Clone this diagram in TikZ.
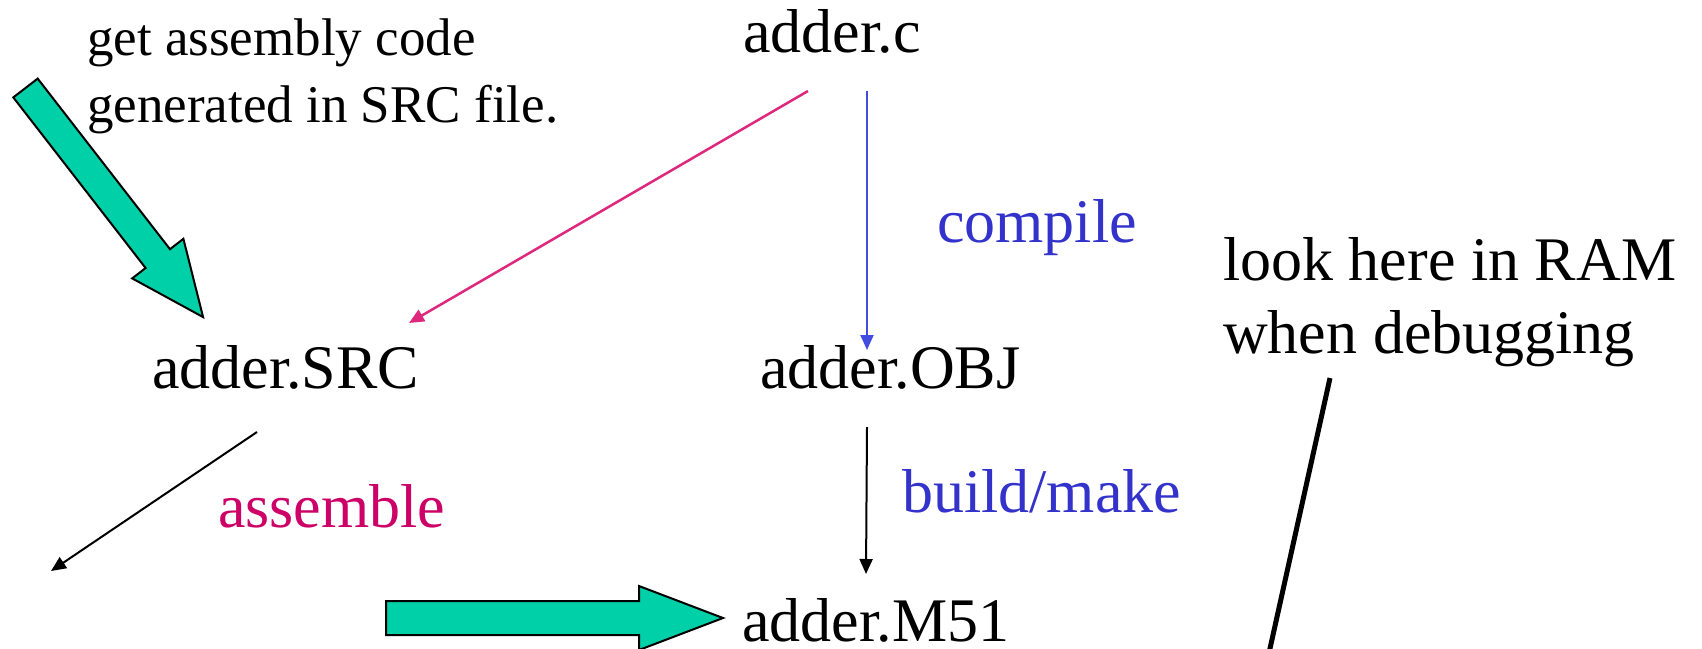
\documentclass[tikz,border=0pt]{standalone}
\usepackage{fontspec}
\setmainfont{Liberation Serif}
\usetikzlibrary{arrows.meta,positioning}

\definecolor{arrowteal}{RGB}{0,208,168}
\definecolor{srcpink}{RGB}{222,40,125}
\definecolor{compblue}{RGB}{66,76,222}
\definecolor{stepblue}{RGB}{51,51,204}
\definecolor{asmmagenta}{RGB}{204,0,102}

\begin{document}
\begin{tikzpicture}[x=1pt,y=-1pt,>={Triangle[length=15pt,width=13pt]},
    fname/.style={font=\fontsize{62}{73}\selectfont,inner sep=0pt,anchor=base west},
    note/.style={font=\fontsize{53}{67}\selectfont,inner sep=0pt,anchor=base west,align=left},
    flow/.style={->,line width=2pt},
    bigarrow/.style={fill=arrowteal,draw=black,line width=2pt,line join=miter}]

    \useasboundingbox (0,0) rectangle (1702,648);
    \clip (0,0) rectangle (1702,648);

    % file names
    \node[fname] (cfile) at (743,52) {adder.c};
    \node[fname] (src) at (152,388) {adder.SRC};
    \node[fname] (obj) at (760,388) {adder.OBJ};
    \node[fname] (m51) at (742,641) {adder.M51};

    % steps
    \node[fname,stepblue] (compile) at (937,242) {compile};
    \node[fname,stepblue] (build) at (902,512) {build/make};
    \node[fname,asmmagenta] (assemble) at (218,527) {assemble};

    % notes (base is the last line)
    \node[note] (srcnote) at (87,122) {get assembly code\\generated in SRC file.};
    \node[fname,align=left] (ramnote) at (1223,353) {look here in RAM\\when debugging};

    \coordinate (asmend) at (51,571);
    \coordinate (ramend) at (1267,662);

    \draw[flow,srcpink,line width=2.5pt] ([xshift=65pt,yshift=-39pt]cfile.base west)
        -- ([xshift=257pt,yshift=65pt]src.base west);
    \draw[flow,compblue] ([xshift=124pt,yshift=-39pt]cfile.base west)
        -- ([xshift=107pt,yshift=38pt]obj.base west);
    \draw[flow] ([xshift=107pt,yshift=-39pt]obj.base west)
        -- ([xshift=124pt,yshift=67pt]m51.base west);
    \draw[flow] ([xshift=105pt,yshift=-44pt]src.base west) -- (asmend);
    \draw[line width=5pt] ([xshift=107pt,yshift=-25pt]ramnote.base west) -- (ramend);

    % block arrows
    \filldraw[bigarrow] (13.3,97.4) -- (37.7,78.6) -- (170,249.2) -- (183.4,238.8)
        -- (203.1,317.1) -- (132.2,278.4) -- (145.6,268) -- cycle;
    \filldraw[bigarrow] (386,601) -- (639,601) -- (639,586) -- (723,618)
        -- (639,650) -- (639,635) -- (386,635) -- cycle;
\end{tikzpicture}
\end{document}
